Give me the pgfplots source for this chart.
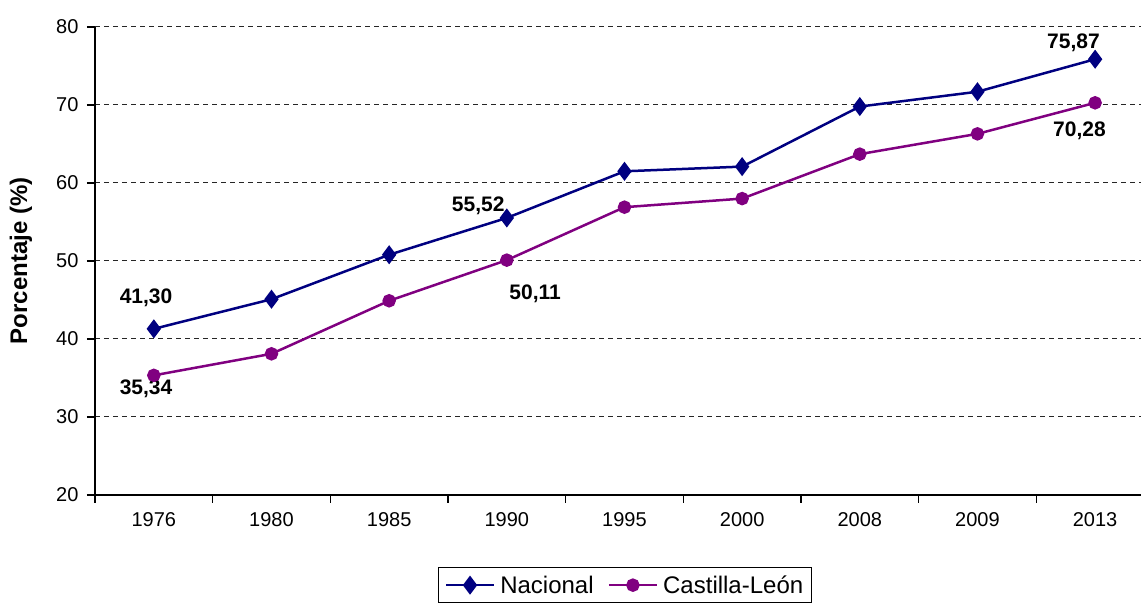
\documentclass[border=0pt]{standalone}
\usepackage{pgfplots}
\pgfplotsset{compat=1.18}
\usepackage{fontspec}
\setmainfont{Liberation Sans}
\definecolor{nac}{RGB}{0,0,128}
\definecolor{cyl}{RGB}{128,0,128}
\begin{document}
\begin{tikzpicture}[x=1pt,y=1pt]
\useasboundingbox (0,0) rectangle (1141,604);
\clip (0,0) rectangle (1141,604);
\begin{axis}[
  at={(95pt,109pt)}, anchor=south west,
  scale only axis, width=1046pt, height=468pt,
  xmin=-0.5, xmax=8.39, ymin=20, ymax=80,
  axis lines=left,
  axis line style={-, black, line width=1.2pt},
  tick style={black, line width=1.2pt},
  tick align=outside,
  major tick length=8pt,
  xtick={-0.5,0.5,1.5,2.5,3.5,4.5,5.5,6.5,7.5},
  xticklabels={},
  extra x ticks={0,1,2,3,4,5,6,7,8},
  extra x tick labels={1976,1980,1985,1990,1995,2000,2008,2009,2013},
  extra x tick style={major tick length=0pt, xticklabel style={yshift=-14pt}},
  ytick={20,30,40,50,60,70,80},
  ymajorgrids,
  grid style={black!85, line width=1pt, dash pattern=on 5pt off 4pt},
  /pgf/number format/assume math mode=true,
  ticklabel style={font=\fontsize{20}{24}\selectfont},
  yticklabel style={xshift=-5pt},
  ylabel={\textbf{Porcentaje (\%)}},
  every axis y label/.style={at={(axis description cs:-0.0708,0.5)}, rotate=90, anchor=center, font=\fontsize{24}{28}\selectfont},
  legend style={at={(axis description cs:0.5067,-0.154)}, anchor=north, legend columns=2, draw=black, line width=1pt, font=\fontsize{24}{28}\selectfont, inner xsep=6pt, inner ysep=6pt,
    /tikz/every odd column/.append style={column sep=3pt},
    /tikz/every even column/.append style={column sep=12pt}},
  legend image code/.code={\draw[mark repeat=2,mark phase=2] plot coordinates {(0pt,0pt)(24pt,0pt)(48pt,0pt)};},
]
\addplot[nac, line width=2.5pt, mark=diamond*, mark size=7.5pt, mark options={solid}] coordinates {(0,41.30)(1,45.1)(2,50.8)(3,55.52)(4,61.5)(5,62.1)(6,69.8)(7,71.7)(8,75.87)};
\addlegendentry{Nacional}
\addplot[cyl, line width=2.5pt, mark=*, mark size=5.5pt, mark options={solid}] coordinates {(0,35.34)(1,38.1)(2,44.9)(3,50.11)(4,56.9)(5,58.0)(6,63.7)(7,66.3)(8,70.28)};
\addlegendentry{Castilla-León}
\begin{scope}[every node/.style={font=\fontsize{21}{24}\selectfont\bfseries, anchor=center, inner sep=0pt}]
\node at (axis cs:-0.066,45.26) {41,30};
\node at (axis cs:-0.066,33.59) {35,34};
\node at (axis cs:2.757,57.05) {55,52};
\node at (axis cs:3.241,45.77) {50,11};
\node at (axis cs:7.816,77.95) {75,87};
\node at (axis cs:7.867,66.67) {70,28};
\end{scope}
\end{axis}
\end{tikzpicture}
\end{document}
